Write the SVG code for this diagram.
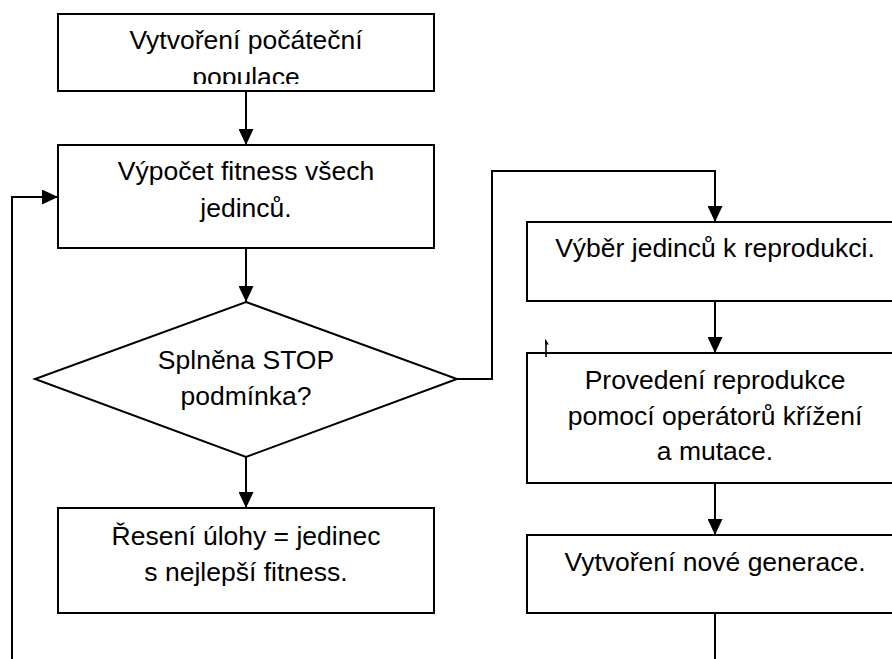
<svg xmlns="http://www.w3.org/2000/svg" width="892" height="659" viewBox="0 0 892 659">
<style>
.box{fill:#fff;stroke:#000;stroke-width:2}
.t{font-family:"Liberation Sans",Arial,sans-serif;font-size:26.5px;fill:#000;text-anchor:middle}
.c{fill:none;stroke:#000;stroke-width:2}
</style>
<defs>
<marker id="ah" markerUnits="userSpaceOnUse" markerWidth="16" markerHeight="15" refX="16" refY="7.5" orient="auto">
<path d="M0,0 L16,7.5 L0,15 z" fill="#000"/>
</marker>
<clipPath id="clip1"><rect x="58" y="14" width="376" height="70"/></clipPath>
</defs>
<rect width="892" height="659" fill="#fff"/>
<g id="connectors">
<path class="c" d="M246,91 V145" marker-end="url(#ah)"/>
<path class="c" d="M246,248 V302" marker-end="url(#ah)"/>
<path class="c" d="M246,457 V508" marker-end="url(#ah)"/>
<path class="c" d="M457,379 H492 V171 H715 V222" marker-end="url(#ah)"/>
<path class="c" d="M715,301 V353" marker-end="url(#ah)"/>
<path class="c" d="M715,483 V535" marker-end="url(#ah)"/>
<path class="c" d="M715,613 V659"/>
<path class="c" d="M12,659 V197 H58" marker-end="url(#ah)"/>
</g>
<g id="n1">
<rect class="box" x="58" y="14" width="376" height="77"/>
<g clip-path="url(#clip1)">
<text class="t" x="246" y="49">Vytvoření počáteční</text>
<text class="t" x="246" y="86">populace</text>
</g>
</g>
<g id="n2">
<rect class="box" x="58" y="145" width="376" height="103"/>
<text class="t" x="246" y="180">Výpočet fitness všech</text>
<text class="t" x="246" y="217">jedinců.</text>
</g>
<g id="n3">
<polygon class="box" points="246,302 457,379 246,457 35,379"/>
<text class="t" x="246" y="369">Splněna STOP</text>
<text class="t" x="246" y="405">podmínka?</text>
</g>
<g id="n4">
<rect class="box" x="58" y="508" width="376" height="105"/>
<text class="t" x="246" y="545">Řesení úlohy = jedinec</text>
<text class="t" x="246" y="581">s nejlepší fitness.</text>
</g>
<g id="n5">
<rect class="box" x="527" y="222" width="376" height="79"/>
<text class="t" x="715" y="257">Výběr jedinců k reprodukci.</text>
</g>
<g id="n6">
<rect class="box" x="527" y="353" width="376" height="130"/>
<text class="t" x="715" y="389">Provedení reprodukce</text>
<text class="t" x="715" y="424.5">pomocí operátorů křížení</text>
<text class="t" x="715" y="460">a mutace.</text>
</g>
<g id="n7">
<rect class="box" x="527" y="535" width="376" height="78"/>
<text class="t" x="715" y="571">Vytvoření nové generace.</text>
</g>
<g id="tick">
<path d="M546,357 V341" stroke="#000" stroke-width="1.6" fill="none"/>
<path d="M545.2,338.5 L548.8,344.5 L545.2,344.5 z" fill="#000"/>
</g>
</svg>
